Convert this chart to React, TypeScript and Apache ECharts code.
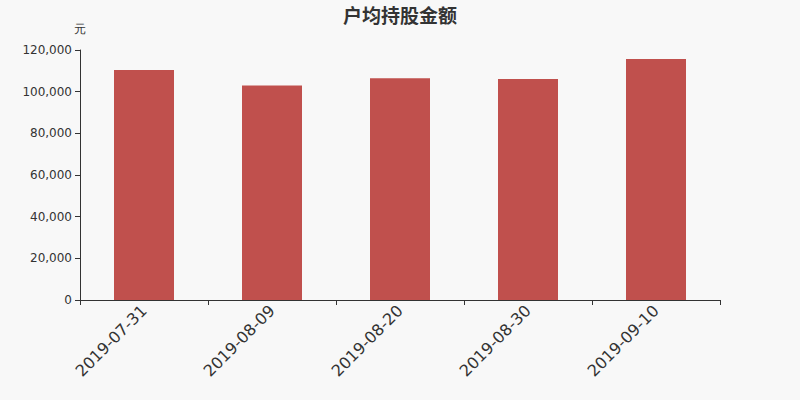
import * as React from 'react';
import * as echarts from 'echarts';

// 户均持股金额 (元)
const categories = ['2019-07-31', '2019-08-09', '2019-08-20', '2019-08-30', '2019-09-10'];
const amounts = [110400, 103000, 106400, 106100, 115700];

const App: React.FC = () => {
  const chartRef = React.useRef<HTMLDivElement>(null);

  React.useEffect(() => {
    if (!chartRef.current) return;
    const chart = echarts.init(chartRef.current, undefined, { renderer: 'svg' });

    chart.setOption({
      animation: false,
      backgroundColor: '#f8f8f8',
      textStyle: { fontFamily: 'DejaVu Sans' },
      title: {
        text: '户均持股金额',
        left: 'center',
        top: 0,
        textStyle: { fontSize: 19, fontWeight: 'bold', color: '#333', fontFamily: 'Noto Sans CJK SC' },
      },
      grid: { left: 80, right: 80, top: 50, bottom: 100 },
      xAxis: {
        type: 'category',
        data: categories,
        axisLine: { lineStyle: { color: '#333' } },
        axisTick: { show: true, length: 5, lineStyle: { color: '#333' } },
        axisLabel: { rotate: 45, fontSize: 16, color: '#333', margin: 8 },
      },
      yAxis: {
        type: 'value',
        name: '元',
        nameGap: 15,
        nameTextStyle: { color: '#333', fontSize: 12 },
        min: 0,
        max: 120000,
        interval: 20000,
        axisLine: { show: true, lineStyle: { color: '#333' } },
        axisTick: { show: true, length: 5, lineStyle: { color: '#333' } },
        axisLabel: {
          color: '#333',
          fontSize: 12,
          formatter: (v: number) => v.toLocaleString('en-US'),
        },
        splitLine: { show: false },
      },
      series: [
        {
          type: 'bar',
          data: amounts,
          barWidth: 60,
          itemStyle: { color: '#c0504d' },
        },
      ],
    });

    return () => chart.dispose();
  }, []);

  return (
    <div
      ref={chartRef}
      style={{ position: 'fixed', left: 0, top: 0, width: 800, height: 400 }}
    />
  );
};

export default App;
